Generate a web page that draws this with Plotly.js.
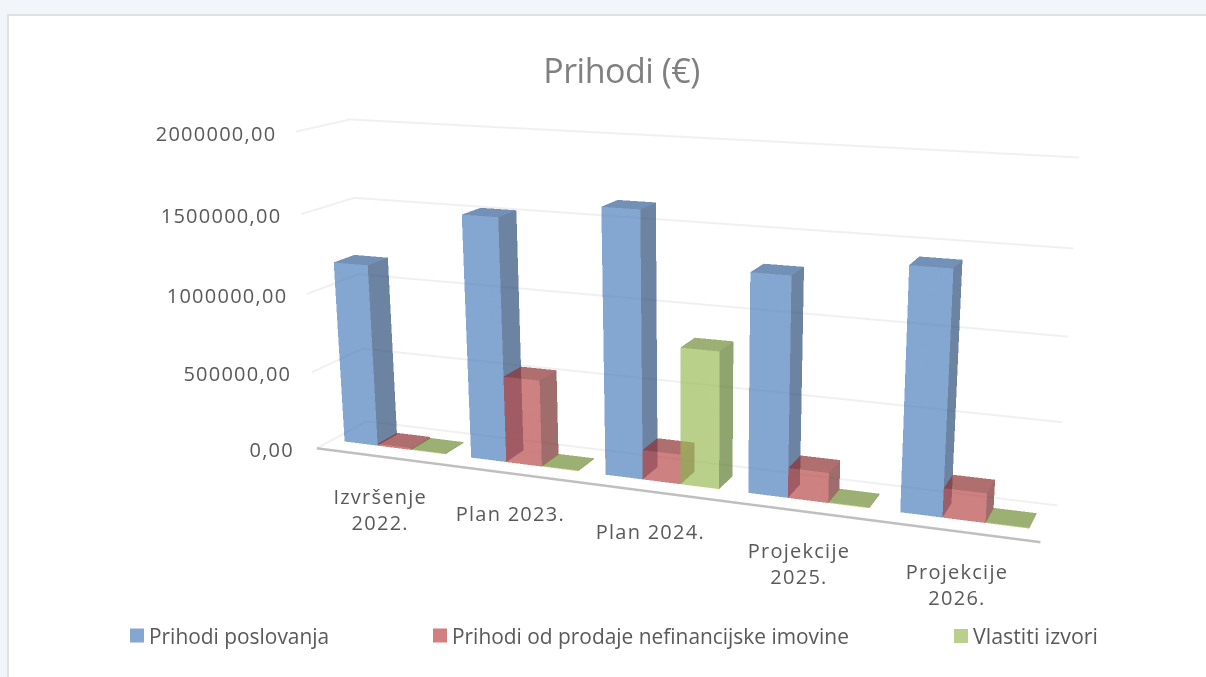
<!DOCTYPE html>
<html><head><meta charset="utf-8">
<script src="https://cdn.plot.ly/plotly-3.0.1.min.js"></script>
<style>
html,body{margin:0;padding:0;width:1206px;height:677px;overflow:hidden;background:#f2f6fb}
#panel{position:absolute;left:7px;top:14px;width:1199px;height:663px;background:#fff;border-left:2px solid #dfe1e3;border-top:2px solid #dfe1e3;box-sizing:border-box}
#plot{position:absolute;left:6px;top:-319px;width:1376px;height:1376px}
#plot .annotation-text{letter-spacing:1.25px}
#plot .legendsymbols{transform:translateX(8px)}
#plot .gtitle{letter-spacing:-0.5px}
</style></head><body>
<div id="panel"></div><div id="plot"></div>
<script>
const categories = ["Izvršenje<br>2022.","Plan 2023.","Plan 2024.","Projekcije<br>2025.","Projekcije<br>2026."];
const tickValues = [0,500000,1000000,1500000,2000000];
const tickLabels = ["0,00","500000,00","1000000,00","1500000,00","2000000,00"];
const prihodiPoslovanja = [1170000,1530000,1635000,1320000,1430000];
const prihodiProdaja = [12000,548000,185000,183000,175000];
const vlastitiIzvori = [5000,5000,840000,5000,5000];
const seriesNames = ["Prihodi poslovanja","Prihodi od prodaje nefinancijske imovine","Vlastiti izvori"];
const frontColors = ["#4F81BD","#B84A4A","#9BBB59"];
const sideColors = ["#2C4E7A","#762D2D","#607C32"];
const topColors = ["#376097","#8E3030","#708D35"];
const legendColors = ["#84A7D1","#D17F7F","#B9CF8B"];
const seriesValues = [prihodiPoslovanja,prihodiProdaja,vlastitiIzvori];

const barW = 0.267, gapHalf = 0.1, y0 = 0.3, y1 = 0.7;
function barMesh(vals, s){
  const X=[],Y=[],Z=[],I=[],J=[],K=[],FC=[];
  vals.forEach((v,c)=>{
    const a=c+gapHalf+s*barW, b=a+barW, n=X.length;
    X.push(a,b,b,a,b,b,a); Y.push(y0,y0,y0,y0,y1,y1,y1); Z.push(0,0,v,v,0,v,v);
    const tri=(p,q,r,col)=>{I.push(n+p);J.push(n+q);K.push(n+r);FC.push(col);};
    tri(0,1,2,frontColors[s]);tri(0,2,3,frontColors[s]);
    tri(1,4,5,sideColors[s]);tri(1,5,2,sideColors[s]);
    tri(3,2,5,topColors[s]);tri(3,5,6,topColors[s]);
  });
  return {type:'mesh3d',x:X,y:Y,z:Z,i:I,j:J,k:K,facecolor:FC,opacity:0.7,flatshading:true,
    lighting:{ambient:1,diffuse:0,specular:0,roughness:1,fresnel:0},name:seriesNames[s],showlegend:false,showscale:false,hoverinfo:'skip'};
}
function legendKey(s){
  return {type:'scatter3d',mode:'markers',x:[null],y:[null],z:[null],name:seriesNames[s],
    marker:{symbol:'square',size:14,color:legendColors[s],line:{width:0}},showlegend:true,hoverinfo:'skip',legend:s===0?'legend':'legend'+(s+1)};
}
const gx=[],gy=[],gz=[];
tickValues.forEach(t=>{gx.push(0,0,5,null);gy.push(0,1,1,null);gz.push(t,t,t,null);});
const grid={type:'scatter3d',mode:'lines',x:gx,y:gy,z:gz,line:{color:'#f0f0f0',width:4},showlegend:false,hoverinfo:'skip'};
const axisLine={type:'scatter3d',mode:'lines',x:[0,5],y:[0,0],z:[0,0],line:{color:'#bfbfbf',width:5},showlegend:false,hoverinfo:'skip'};
const textFont={family:'"Open Sans",sans-serif',size:20,color:'#595959'};
const annos=[];
tickValues.forEach((t,i)=>annos.push({x:0,y:0,z:t,text:tickLabels[i],showarrow:false,xanchor:'right',yanchor:'middle',xshift:-24,yshift:-1.5,font:textFont}));
categories.forEach((t,i)=>annos.push({x:i+0.5,y:0,z:0,text:t,showarrow:false,xanchor:'center',yanchor:'top',yshift:-24.5,xshift:0,font:textFont}));
const ax={visible:false,showgrid:false,zeroline:false,showspikes:false,autorange:false};
const leg=(px,size)=>({orientation:'h',x:(px-6)/1376,y:1-(636+319)/1376,xanchor:'left',yanchor:'middle',bgcolor:'rgba(0,0,0,0)',font:{family:textFont.family,size:size,color:textFont.color},itemwidth:30,indentation:-7,itemclick:false,itemdoubleclick:false});
const layout={width:1376,height:1376,margin:{l:0,r:0,t:0,b:0},paper_bgcolor:'rgba(0,0,0,0)',
  title:{text:'Prihodi (€)',x:(621.5-6)/1376,y:1-(71+319)/1376,xref:'paper',yref:'paper',xanchor:'center',yanchor:'middle',font:{family:'"Open Sans",sans-serif',size:34,color:'#808080'}},
  legend:leg(116,20.9),legend2:leg(419,20.9),legend3:leg(940,21.4),
  scene:{domain:{x:[0,1],y:[0,1]},aspectmode:'manual',aspectratio:{x:2.596,y:0.343,z:1.143},
    xaxis:Object.assign({range:[0,5]},ax),yaxis:Object.assign({range:[0,1]},ax),zaxis:Object.assign({range:[0,2000000]},ax),
    camera:{eye:{x:1.967,y:-5.03,z:1.3478},center:{x:0.085,y:0.02,z:-0.1872},up:{x:0,y:0,z:1},projection:{type:'perspective'}},
    annotations:annos}};
Plotly.newPlot('plot',[grid,axisLine].concat(seriesValues.map(barMesh),[0,1,2].map(legendKey)),layout,{displayModeBar:false});
</script></body></html>
